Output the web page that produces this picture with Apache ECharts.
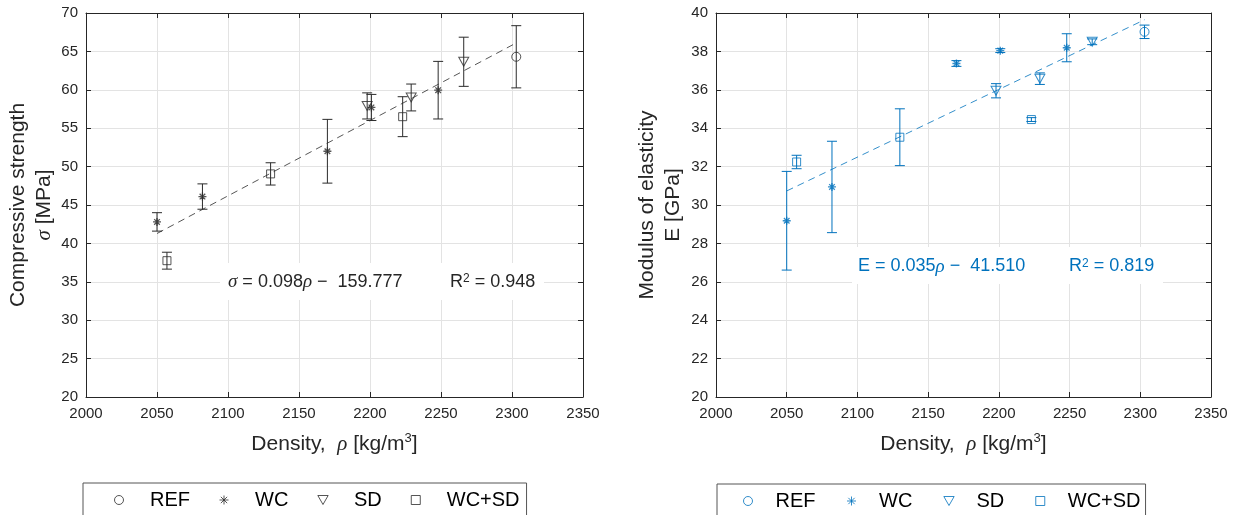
<!DOCTYPE html>
<html>
<head>
<meta charset="utf-8">
<script src="https://cdn.jsdelivr.net/npm/echarts@6/dist/echarts.min.js"></script>
<style>
  html, body { margin: 0; padding: 0; background: #ffffff; }
  #chart { width: 1236px; height: 515px; }
</style>
</head>
<body>
<div id="chart"></div>
<script>
// Sample densities in kg/m3 (shared by both panels)
const densityREF = [2303];
const densityWC = [2050, 2082, 2170, 2201, 2248];
const densitySD = [2198, 2229, 2266];
const densityWCSD = [2057, 2130, 2223];

// Compressive strength, mean and standard deviation (MPa)
const sigmaREF = [64.3];
const sigmaSdREF = [4.05];
const sigmaWC = [42.8, 46.1, 52.0, 57.7, 59.95];
const sigmaSdWC = [1.2, 1.65, 4.15, 1.7, 3.75];
const sigmaSD = [57.9, 59.0, 63.65];
const sigmaSdSD = [1.7, 1.75, 3.2];
const sigmaWCSD = [37.75, 49.05, 56.5];
const sigmaSdWCSD = [1.1, 1.45, 2.6];

// Modulus of elasticity, mean and standard deviation (GPa)
const modREF = [39.02];
const modSdREF = [0.35];
const modWC = [29.18, 30.94, 37.37, 38.04, 38.19];
const modSdWC = [2.57, 2.38, 0.15, 0.1, 0.73];
const modSD = [35.95, 36.58, 38.5];
const modSdSD = [0.37, 0.3, 0.15];
const modWCSD = [32.24, 33.53, 34.45];
const modSdWCSD = [0.35, 1.48, 0.1];

// Linear regressions: [strength, modulus]
const fitSlope = [0.09808, 0.03524];
const fitIntercept = [-159.777, -41.510];
const fitR2 = [0.948, 0.819];

// Axis ranges / tick steps
const densityAxis = [2000, 2350, 50];
const sigmaAxis = [20, 70, 5];
const modAxis = [20, 40, 2];

const groupNames = ['REF', 'WC', 'SD', 'WC+SD'];

const FONT = "'Liberation Sans', Arial, Helvetica, sans-serif";
const SERIF = "'Liberation Serif', 'DejaVu Serif', serif";
const INK = '#262626';
const DARK = '#2b2b2b';
const BLUE = '#0072BD';
const GRIDLINE = '#e3e3e3';

const SYMBOLS = {
  'REF': { symbol: 'circle', size: 9 },
  'WC': { symbol: 'path://M5,0L5,10M0,5L10,5M1.5,1.5L8.5,8.5M8.5,1.5L1.5,8.5', size: 8 },
  'SD': { symbol: 'path://M0,0L10,0L5,8.7Z', size: [10, 9] },
  'WC+SD': { symbol: 'path://M0,0L10,0L10,10L0,10Z', size: 8 }
};

const groupsSigma = {
  'REF': [densityREF, sigmaREF, sigmaSdREF],
  'WC': [densityWC, sigmaWC, sigmaSdWC],
  'SD': [densitySD, sigmaSD, sigmaSdSD],
  'WC+SD': [densityWCSD, sigmaWCSD, sigmaSdWCSD]
};
const groupsMod = {
  'REF': [densityREF, modREF, modSdREF],
  'WC': [densityWC, modWC, modSdWC],
  'SD': [densitySD, modSD, modSdSD],
  'WC+SD': [densityWCSD, modWCSD, modSdWCSD]
};

const allDensity = [].concat(densityREF, densityWC, densitySD, densityWCSD);
const rhoMin = Math.min.apply(null, allDensity);
const rhoMax = Math.max.apply(null, allDensity);

function errorBarRenderer(color, cap) {
  return function (params, api) {
    const x = api.value(0);
    const top = api.coord([x, api.value(2)]);
    const bot = api.coord([x, api.value(1)]);
    const st = { stroke: color, lineWidth: 1, fill: null };
    return {
      type: 'group',
      children: [
        { type: 'line', shape: { x1: top[0], y1: top[1], x2: bot[0], y2: bot[1] }, style: st },
        { type: 'line', shape: { x1: top[0] - cap, y1: top[1], x2: top[0] + cap, y2: top[1] }, style: st },
        { type: 'line', shape: { x1: bot[0] - cap, y1: bot[1], x2: bot[0] + cap, y2: bot[1] }, style: st }
      ]
    };
  };
}

function buildSeries(groups, panel, color, prefix) {
  const out = [];
  groupNames.forEach(function (g) {
    const xs = groups[g][0], ys = groups[g][1], sds = groups[g][2];
    out.push({
      type: 'custom',
      xAxisIndex: panel * 2,
      yAxisIndex: panel * 2,
      renderItem: errorBarRenderer(color, 5),
      data: xs.map(function (x, i) { return [x, ys[i] - sds[i], ys[i] + sds[i]]; }),
      encode: { x: 0, y: [1, 2] },
      silent: true,
      z: 3
    });
    out.push({
      type: 'scatter',
      name: prefix + g,
      xAxisIndex: panel * 2,
      yAxisIndex: panel * 2,
      symbol: SYMBOLS[g].symbol,
      symbolSize: SYMBOLS[g].size,
      itemStyle: { color: 'transparent', borderColor: color, borderWidth: g === 'WC' ? 1.3 : 1 },
      data: xs.map(function (x, i) { return [x, ys[i]]; }),
      silent: true,
      z: 4
    });
  });
  const a = fitSlope[panel], b = fitIntercept[panel];
  out.push({
    type: 'line',
    xAxisIndex: panel * 2,
    yAxisIndex: panel * 2,
    data: [[rhoMin, a * rhoMin + b], [rhoMax, a * rhoMax + b]],
    symbol: 'none',
    lineStyle: { color: color, width: 0.8, type: [7, 5] },
    silent: true,
    z: 2
  });
  return out;
}

function plainNumber(v) { return String(v); }

function xAxes(gridIndex) {
  const base = {
    gridIndex: gridIndex, type: 'value',
    min: densityAxis[0], max: densityAxis[1], interval: densityAxis[2]
  };
  return [
    Object.assign({}, base, {
      position: 'bottom',
      axisLine: { show: true, lineStyle: { color: INK, width: 1 } },
      axisTick: { show: true, inside: true, length: 5, lineStyle: { color: INK } },
      axisLabel: { show: true, fontSize: 15, color: INK, margin: 9, fontFamily: FONT, formatter: plainNumber },
      splitLine: { show: true, lineStyle: { color: GRIDLINE, width: 1 } },
      name: 'Density,  {i|ρ} [kg/m{sup|3}]',
      nameLocation: 'middle',
      nameGap: 35,
      nameTextStyle: {
        fontSize: 21, color: INK, fontFamily: FONT, lineHeight: 24,
        rich: {
          i: { fontSize: 21, fontStyle: 'italic', fontFamily: SERIF, color: INK, lineHeight: 24 },
          sup: { fontSize: 13, color: INK, verticalAlign: 'top', lineHeight: 14, fontFamily: FONT }
        }
      }
    }),
    Object.assign({}, base, {
      position: 'top',
      axisLine: { show: true, lineStyle: { color: INK, width: 1 } },
      axisTick: { show: true, inside: true, length: 5, lineStyle: { color: INK } },
      axisLabel: { show: false },
      splitLine: { show: false }
    })
  ];
}

function yAxes(gridIndex, range, title, gap) {
  const base = {
    gridIndex: gridIndex, type: 'value',
    min: range[0], max: range[1], interval: range[2]
  };
  return [
    Object.assign({}, base, {
      position: 'left',
      axisLine: { show: true, lineStyle: { color: INK, width: 1 } },
      axisTick: { show: true, inside: true, length: 5, lineStyle: { color: INK } },
      axisLabel: { show: true, fontSize: 15, color: INK, margin: 8, fontFamily: FONT, formatter: plainNumber },
      splitLine: { show: true, lineStyle: { color: GRIDLINE, width: 1 } },
      name: title,
      nameLocation: 'middle',
      nameRotate: 90,
      nameGap: gap,
      nameTextStyle: {
        fontSize: 21, color: INK, fontFamily: FONT, lineHeight: 26,
        rich: {
          i: { fontSize: 21, fontStyle: 'italic', fontFamily: SERIF, color: INK, lineHeight: 26 }
        }
      }
    }),
    Object.assign({}, base, {
      position: 'right',
      axisLine: { show: true, lineStyle: { color: INK, width: 1 } },
      axisTick: { show: true, inside: true, length: 5, lineStyle: { color: INK } },
      axisLabel: { show: false },
      splitLine: { show: false }
    })
  ];
}

function legendFor(left, top, prefix, gap, padding, textShift) {
  return {
    show: true,
    orient: 'horizontal',
    left: left,
    top: top,
    data: groupNames.map(function (g) { return prefix + g; }),
    formatter: function (n) { return n.slice(prefix.length); },
    itemWidth: 42,
    itemHeight: 9,
    itemGap: gap,
    padding: padding,
    borderColor: '#555555',
    borderWidth: 1,
    backgroundColor: '#ffffff',
    selectedMode: false,
    itemStyle: { borderWidth: 1 },
    textStyle: { fontSize: 20, color: '#000000', fontFamily: FONT, padding: [0, 0, 0, textShift] }
  };
}

function equationText(panel) {
  const a = fitSlope[panel], b = fitIntercept[panel];
  const sign = b < 0 ? '−' : '+';
  const lhs = panel === 0 ? '{i|σ}' : 'E';
  return lhs + ' = ' + a.toFixed(3) + '{i|ρ} ' + sign + '  ' + Math.abs(b).toFixed(3);
}
function r2Text(panel) {
  return 'R{sup|2} = ' + fitR2[panel].toFixed(3);
}

function annotation(panel, box, eqX, r2X, y, color) {
  const rich = {
    i: { fontSize: 19, fontStyle: 'italic', fontFamily: SERIF, fill: color },
    sup: { fontSize: 12, fontFamily: FONT, fill: color, verticalAlign: 'top', lineHeight: 12 }
  };
  return [
    { type: 'rect', shape: { x: box[0], y: box[1], width: box[2], height: box[3] },
      style: { fill: '#ffffff' }, z: 1, silent: true },
    { type: 'text', x: eqX, y: y, z: 5, silent: true,
      style: { text: equationText(panel), fill: color, fontSize: 18, fontFamily: FONT,
               verticalAlign: 'middle', align: 'left', rich: rich } },
    { type: 'text', x: r2X, y: y, z: 5, silent: true,
      style: { text: r2Text(panel), fill: color, fontSize: 18, fontFamily: FONT,
               verticalAlign: 'middle', align: 'left', rich: rich } }
  ];
}

const chart = echarts.init(document.getElementById('chart'), null, { renderer: 'canvas' });

const option = {
  animation: false,
  backgroundColor: '#ffffff',
  textStyle: { fontFamily: FONT },
  grid: [
    { left: 86, top: 13, width: 497, height: 384 },
    { left: 716, top: 13, width: 495, height: 384 }
  ],
  xAxis: xAxes(0).concat(xAxes(1)),
  yAxis: yAxes(0, sigmaAxis, 'Compressive strength\n{i|σ} [MPa]', 20)
    .concat(yAxes(1, modAxis, 'Modulus of elasticity\nE [GPa]', 30)),
  legend: [
    legendFor(83, 483, 'S·', 29, [7, 7, 12, 31], 5),
    legendFor(717, 484, 'E·', 31, [7, 5, 12, 26], 1.5)
  ],
  graphic: annotation(0, [220, 263, 324, 37], 228, 450, 282, INK)
    .concat(annotation(1, [852, 247, 311, 37], 858, 1069, 266.5, BLUE)),
  series: buildSeries(groupsSigma, 0, DARK, 'S·').concat(buildSeries(groupsMod, 1, BLUE, 'E·'))
};

chart.setOption(option);
</script>
</body>
</html>
